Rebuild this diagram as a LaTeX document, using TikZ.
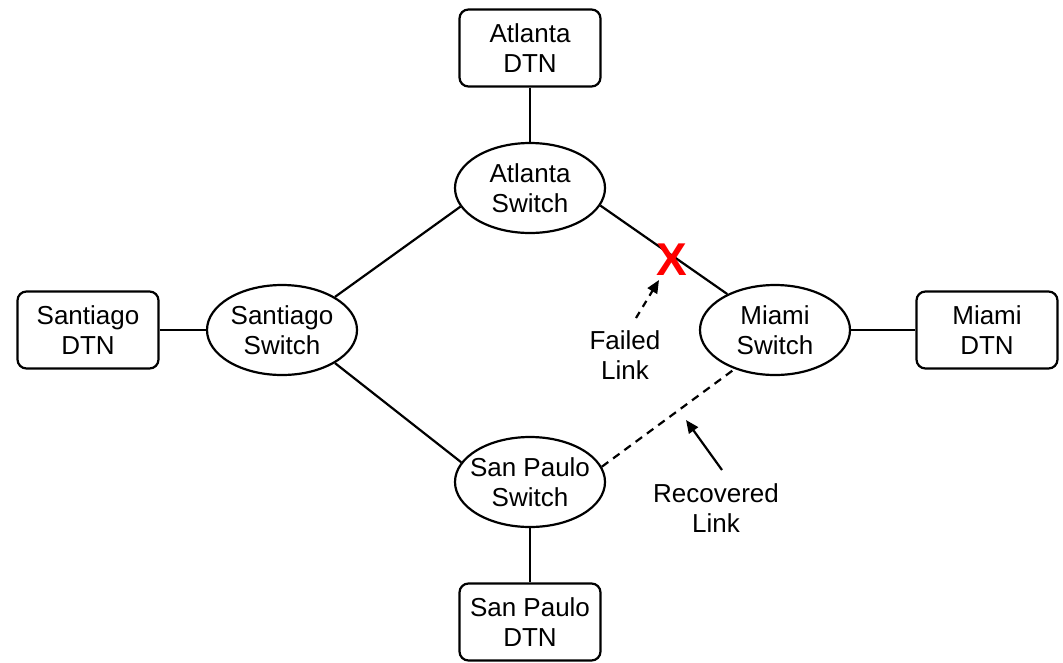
\documentclass[tikz,border=0pt]{standalone}
\usepackage{fontspec}
\setmainfont{Liberation Sans}
\usetikzlibrary{shapes.geometric,arrows.meta}
\begin{document}
\begin{tikzpicture}[x=1pt,y=-1pt,
  dtnbox/.style={draw,line width=2.2pt,rounded corners=9pt,minimum width=141pt,minimum height=77pt,inner sep=0pt,align=center,font=\fontsize{26}{30}\selectfont},
  switchel/.style={draw,ellipse,line width=2.2pt,minimum width=150pt,minimum height=90pt,inner xsep=-16pt,inner ysep=-10pt,align=center,font=\fontsize{26}{30}\selectfont},
  link/.style={line width=2.2pt},
  lbl/.style={align=center,font=\fontsize{26}{30}\selectfont}]
\useasboundingbox (0,0) rectangle (1063,662);
\node[dtnbox] (atldtn) at (530,48) {Atlanta\\DTN};
\node[switchel] (atlsw) at (530,188) {Atlanta\\Switch};
\node[dtnbox] (santdtn) at (88,330) {Santiago\\DTN};
\node[switchel] (santsw) at (282,330) {Santiago\\Switch};
\node[switchel] (miasw) at (775,330) {Miami\\Switch};
\node[dtnbox] (miadtn) at (987,330) {Miami\\DTN};
\node[switchel] (spsw) at (530,482) {San Paulo\\Switch};
\node[dtnbox] (spdtn) at (530,622) {San Paulo\\DTN};
\draw[link] (atldtn) -- (atlsw);
\draw[link] (santdtn) -- (santsw);
\draw[link] (miasw) -- (miadtn);
\draw[link] (spsw) -- (spdtn);
\draw[link] (santsw.32) -- (atlsw.195);
\draw[link] (santsw.-32) -- (spsw.164);
\draw[link] (atlsw.-14) -- (miasw.143);
\draw[link,dashed,dash pattern=on 8pt off 6pt] (spsw.12) -- (miasw.224);
\node[text=red,font=\fontsize{46}{46}\selectfont\bfseries,inner sep=0pt] (xmark) at (672,260) {X};
\node[lbl] (failed) at (625,355) {Failed\\Link};
\node[lbl] (recov) at (716,508) {Recovered\\Link};
\coordinate (ftip) at (659,280);
\coordinate (rtip) at (686,420);
\draw[link,dashed,dash pattern=on 7pt off 6pt,-{Triangle[length=13pt,width=11pt]}] (636,318) -- (ftip);
\draw[link,-{Triangle[length=13pt,width=11pt]}] (722,470) -- (rtip);
\end{tikzpicture}
\end{document}
